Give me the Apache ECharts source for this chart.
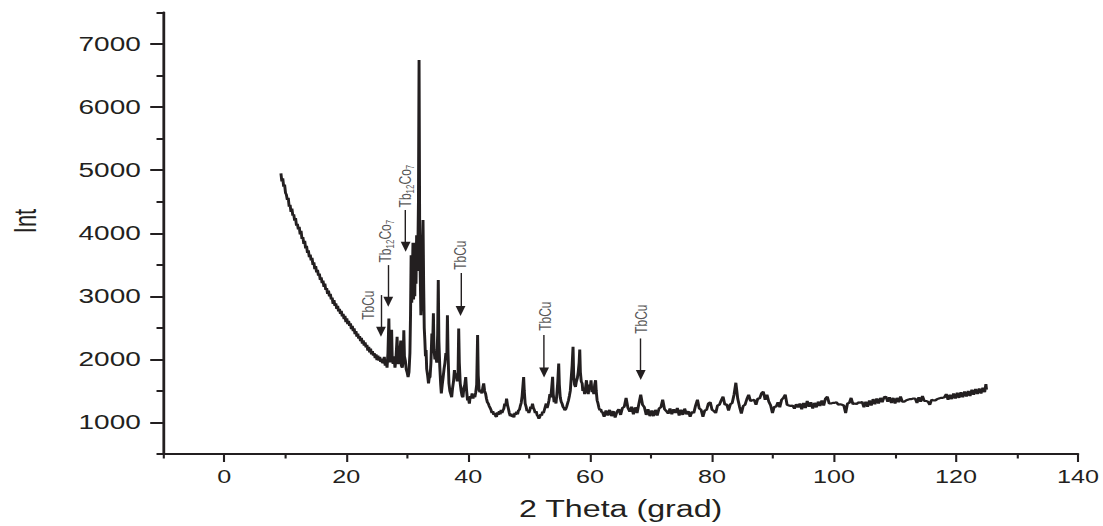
<!DOCTYPE html>
<html>
<head>
<meta charset="utf-8">
<script src="https://cdn.jsdelivr.net/npm/echarts@6/dist/echarts.min.js"></script>
<style>
html,body{margin:0;padding:0;background:#fff;overflow:hidden}
#wrap{width:1103px;height:526px;overflow:hidden;position:relative}
#chart{width:788px;height:526px;transform:scaleX(1.4);transform-origin:0 0}
</style>
</head>
<body>
<div id="wrap"><div id="chart"></div></div>
<script>
// ---------- tick labels ----------
const xTickLabels = [0, 20, 40, 60, 80, 100, 120, 140];
const xMinorTicks = [-10, 10, 30, 50, 70, 90, 110, 130];
const yTickLabels = [1000, 2000, 3000, 4000, 5000, 6000, 7000];
const yMinorTicks = [500, 1500, 2500, 3500, 4500, 5500, 6500, 7500];

// ---------- scan: [2theta, intensity] ----------
const decayScan = [
 [9.30,4950],[9.45,4820],[9.60,4870],[9.75,4740],[9.90,4770],[10.05,4640],[10.20,4610],[10.35,4530],
 [10.50,4560],[10.65,4420],[10.80,4450],[10.95,4340],[11.10,4390],[11.25,4280],[11.40,4300],[11.55,4200],
 [11.70,4240],[11.85,4120],[12.00,4150],[12.15,4060],[12.30,4100],[12.45,3980],[12.60,4040],[12.75,3910],
 [12.90,3940],[13.05,3830],[13.20,3880],[13.35,3760],[13.50,3800],[13.65,3690],[13.80,3730],[13.95,3620],
 [14.10,3660],[14.25,3570],[14.40,3610],[14.55,3500],[14.70,3540],[14.85,3430],[15.00,3480],[15.15,3380],
 [15.30,3420],[15.45,3330],[15.60,3360],[15.75,3260],[15.90,3300],[16.05,3210],[16.20,3250],[16.35,3150],
 [16.50,3200],[16.65,3100],[16.80,3130],[16.95,3040],[17.10,3090],[17.25,3000],[17.40,3040],[17.55,2950],
 [17.70,2980],[17.85,2880],[18.00,2940],[18.15,2850],[18.30,2890],[18.45,2800],[18.60,2850],[18.75,2760],
 [18.90,2800],[19.05,2720],[19.20,2770],[19.35,2680],[19.50,2720],[19.65,2640],[19.80,2690],[19.95,2590],
 [20.10,2650],[20.25,2560],[20.40,2610],[20.55,2530],[20.70,2570],[20.85,2480],[21.00,2530],[21.15,2450],
 [21.30,2490],[21.45,2400],[21.60,2450],[21.75,2360],[21.90,2410],[22.05,2330],[22.20,2370],[22.35,2290],
 [22.50,2340],[22.65,2250],[22.80,2300],[22.95,2220],[23.10,2270],[23.25,2190],[23.40,2230],[23.55,2140],
 [23.70,2200],[23.85,2110],[24.00,2170],[24.15,2080],[24.30,2130],[24.45,2060],[24.60,2100],[24.75,2020],
 [24.90,2080],[25.05,1990],[25.20,2060],[25.35,1980],[25.50,2040],[25.65,1960],[25.80,2010],[25.95,1940]
];
const peakScan = [
 [26.10,1960],[26.25,2040],[26.40,1900],[26.55,1990],[26.70,1870],[26.85,2100],[27.00,2650],[27.10,2050],
 [27.20,1950],[27.30,2200],[27.45,2470],[27.55,2000],[27.70,1930],[27.85,2050],[28.00,1870],[28.15,1990],
 [28.35,2360],[28.45,1950],[28.60,1930],[28.75,2060],[28.95,2300],[29.05,1900],[29.20,1870],[29.35,2000],
 [29.45,2460],[29.55,2050],[29.70,1980],[29.85,1840],[30.00,1790],[30.15,1720],[30.30,1800],[30.45,2100],
 [30.55,2700],[30.65,3650],[30.75,2900],[30.85,3300],[30.95,3850],[31.05,2950],[31.15,3400],[31.25,3000],
 [31.35,3850],[31.45,3200],[31.55,3970],[31.65,3400],[31.75,3700],[31.85,4500],[31.95,6746],[32.05,4000],
 [32.15,3300],[32.25,2700],[32.35,3000],[32.45,3600],[32.60,4210],[32.70,3200],[32.80,2500],[32.90,2300],
 [33.00,2050],[33.10,2150],[33.20,1850],[33.35,1750],[33.50,1620],[33.60,1700],[33.75,1720],[33.90,1950],
 [34.05,2410],[34.15,2100],[34.30,2730],[34.40,2150],[34.55,2000],[34.70,2050],[34.85,1950],[35.00,2400],
 [35.10,3260],[35.20,2300],[35.35,1880],[35.50,1600],[35.60,1460],[35.75,1600],[35.90,1720],[36.05,1850],
 [36.20,1950],[36.35,2100],[36.50,2000],[36.60,2700],[36.70,2100],[36.85,1620],[37.00,1500],[37.15,1450],
 [37.30,1400],[37.45,1550],[37.60,1650],[37.75,1830],[37.90,1700],[38.05,1780],[38.20,1650],[38.35,1800],
 [38.45,2490],[38.55,1950],[38.70,1620],[38.85,1500],[39.00,1420],[39.15,1400],[39.30,1550],[39.45,1600],
 [39.60,1720],[39.75,1500],[39.90,1350],[40.05,1380],[40.20,1300],[40.35,1420],[40.50,1380],[40.65,1460],
 [40.80,1380],[40.95,1420],[41.10,1400],[41.25,1480],[41.40,1600],[41.55,2385],[41.65,1750],[41.80,1510],
 [41.95,1480],[42.10,1520],[42.25,1460],[42.40,1550],[42.55,1620],[42.70,1500],[42.85,1460],[43.00,1380],
 [43.15,1320],[43.30,1300],[43.45,1260],[43.60,1230],[43.75,1200],[43.90,1150],[44.05,1180],[44.20,1120],
 [44.35,1150],[44.50,1100],[44.65,1090],[44.80,1160],[44.95,1120],[45.10,1180],[45.25,1130],[45.40,1200],
 [45.55,1150],[45.70,1190],[45.85,1220],[46.00,1300],[46.15,1260],[46.30,1380],[46.45,1280],[46.60,1220],
 [46.75,1150],[46.90,1100],[47.05,1140],[47.20,1090],[47.35,1110],[47.50,1080],[47.65,1150],[47.80,1120],
 [47.95,1170],[48.10,1130],[48.25,1190],[48.40,1200],[48.55,1260],[48.70,1310],[48.85,1420],[49.00,1600],
 [49.10,1720],[49.20,1500],[49.35,1300],[49.50,1250],[49.65,1180],[49.80,1200],[49.95,1150],[50.10,1190],
 [50.25,1250],[50.40,1220],[50.55,1300],[50.70,1230],[50.85,1200],[51.00,1150],[51.15,1180],[51.30,1120],
 [51.45,1100],[51.60,1060],[51.75,1090],[51.90,1130],[52.05,1110],[52.20,1170],[52.35,1150],[52.50,1200],
 [52.65,1250],[52.80,1300],[52.95,1230],[53.10,1280],[53.25,1350],[53.40,1450],[53.55,1400],[53.70,1550],
 [53.85,1723],[53.95,1450],[54.10,1320],[54.25,1380],[54.40,1300],[54.55,1450],[54.70,1650],[54.85,1935],
 [54.95,1600],[55.10,1400],[55.25,1330],[55.40,1300],[55.55,1250],[55.70,1230],[55.85,1195],[56.00,1210],
 [56.15,1250],[56.30,1300],[56.45,1350],[56.60,1420],[56.75,1500],[56.90,1700],[57.05,1900],[57.20,2200],
 [57.30,1750],[57.45,1600],[57.60,1565],[57.75,1650],[57.90,1700],[58.05,1800],[58.20,1950],[58.30,2157],
 [58.40,1800],[58.55,1650],[58.70,1617],[58.80,1500],[58.95,1550],[59.10,1450],[59.25,1550],[59.40,1670],
 [59.55,1500],[59.70,1450],[59.85,1600],[60.00,1520],[60.15,1670],[60.30,1480],[60.45,1550],[60.60,1450],
 [60.75,1600],[60.90,1670],[61.00,1500],[61.15,1350],[61.30,1300],[61.45,1230],[61.60,1195],[61.75,1210],
 [61.90,1160]
];
const tailScan = [
 [62.0,1170],[62.3,1090],[62.6,1190],[62.9,1110],[63.2,1200],[63.5,1100],[63.8,1180],[64.1,1080],
 [64.4,1170],[64.7,1210],[65.0,1120],[65.3,1230],[65.6,1250],[65.9,1390],[66.2,1230],[66.5,1170],
 [66.8,1250],[67.1,1130],[67.4,1240],[67.7,1150],[68.0,1300],[68.3,1440],[68.6,1280],[68.9,1240],
 [69.2,1120],[69.5,1210],[69.8,1100],[70.1,1190],[70.4,1100],[70.7,1200],[71.0,1110],[71.3,1220],
 [71.6,1240],[71.9,1360],[72.2,1210],[72.5,1180],[72.8,1140],[73.1,1220],[73.4,1130],[73.7,1210],
 [74.0,1150],[74.3,1230],[74.6,1110],[74.9,1200],[75.2,1120],[75.5,1220],[75.8,1130],[76.1,1180],
 [76.4,1090],[76.7,1170],[77.0,1150],[77.3,1270],[77.6,1360],[77.9,1220],[78.2,1200],[78.5,1090],
 [78.8,1190],[79.1,1200],[79.4,1300],[79.7,1320],[80.0,1200],[80.3,1180],[80.6,1150],[80.9,1270],
 [81.2,1280],[81.5,1350],[81.8,1410],[82.1,1280],[82.4,1290],[82.7,1190],[83.0,1290],[83.3,1310],
 [83.6,1440],[83.9,1630],[84.2,1380],[84.5,1250],[84.8,1140],[85.1,1260],[85.4,1280],[85.7,1370],
 [86.0,1440],[86.3,1340],[86.6,1350],[86.9,1360],[87.2,1280],[87.5,1380],[87.8,1380],[88.1,1460],
 [88.4,1490],[88.7,1360],[89.0,1440],[89.3,1330],[89.6,1270],[89.9,1150],[90.2,1250],[90.5,1250],
 [90.8,1320],[91.1,1240],[91.4,1360],[91.7,1390],[92.0,1440],[92.3,1280],[92.6,1270],[92.9,1260],
 [93.2,1270],[93.5,1220],[93.8,1290],[94.1,1240],[94.4,1300],[94.7,1210],[95.0,1310],[95.3,1230],
 [95.6,1340],[95.9,1250],[96.2,1320],[96.5,1220],[96.8,1310],[97.1,1240],[97.4,1330],[97.7,1260],
 [98.0,1350],[98.3,1270],[98.6,1380],[98.9,1410],[99.2,1300],[99.5,1300],[99.8,1310],[100.1,1310],
 [100.4,1320],[100.7,1280],[101.0,1290],[101.3,1280],[101.6,1270],[101.9,1150],[102.2,1300],[102.5,1310],
 [102.8,1390],[103.1,1290],[103.4,1300],[103.7,1290],[104.0,1320],[104.3,1310],[104.6,1330],[104.9,1240],
 [105.2,1330],[105.5,1250],[105.8,1350],[106.1,1270],[106.4,1370],[106.7,1290],[107.0,1380],[107.3,1300],
 [107.6,1390],[107.9,1320],[108.2,1400],[108.5,1410],[108.8,1330],[109.1,1400],[109.4,1310],[109.7,1390],
 [110.0,1300],[110.3,1390],[110.6,1320],[110.9,1410],[111.2,1330],[111.5,1330],[111.8,1350],[112.1,1360],
 [112.4,1370],[112.7,1370],[113.0,1380],[113.3,1380],[113.6,1310],[113.9,1400],[114.2,1330],[114.5,1420],
 [114.8,1340],[115.1,1340],[115.4,1330],[115.7,1280],[116.0,1360],[116.3,1350],[116.6,1350],[116.9,1370],
 [117.2,1380],[117.5,1390],[117.8,1390],[118.1,1400],[118.4,1450],[118.7,1360],[119.0,1440],[119.3,1370],
 [119.6,1460],[119.9,1380],[120.2,1470],[120.5,1390],[120.8,1480],[121.1,1400],[121.4,1490],[121.7,1410],
 [122.0,1500],[122.3,1420],[122.6,1520],[122.9,1440],[123.2,1530],[123.5,1450],[123.8,1540],[124.1,1460],
 [124.4,1550],[124.7,1480],[124.9,1610],[125.0,1520]
];

// ---------- phase annotations ----------
const phaseNames  = ['TbCu', 'Tb12Co7', 'Tb12Co7', 'TbCu', 'TbCu', 'TbCu'];
const arrowTheta  = [25.7, 26.9, 29.75, 38.75, 52.45, 68.3];
const arrowTop    = [3020, 3495, 4367, 3368, 2385, 2332];
const arrowEnd    = [2440, 2914, 3786, 2766, 1794, 1751];
const labelTheta  = [23.6, 26.35, 29.64, 38.64, 52.56, 68.36];
const labelInt    = [2860, 3875, 4748, 3652, 2686, 2638];

const scan = decayScan.concat(peakScan, tailScan);
const ink = '#231f20';
const font = '"Liberation Sans", Arial, sans-serif';

function richName(n) {
  if (n === 'Tb12Co7') return '{b|Tb}{s|12}{b|Co}{s|7}';
  return '{b|' + n + '}';
}

const chart = echarts.init(document.getElementById('chart'), null, {renderer: 'svg'});
chart.setOption({
  animation: false,
  backgroundColor: '#fff',
  grid: {left: 116.6, right: 17.3, top: 12.5, bottom: 71.5, containLabel: false},
  xAxis: [{
    type: 'value', min: -10, max: 140, interval: 10, position: 'bottom',
    name: '2 Theta (grad)', nameLocation: 'middle', nameGap: 44,
    nameTextStyle: {fontFamily: font, fontSize: 23, color: ink},
    axisLine: {show: true, onZero: false, lineStyle: {color: ink, width: 2}},
    axisTick: {show: true, customValues: xTickLabels, length: 8, lineStyle: {color: ink, width: 1.5}},
    axisLabel: {show: true, customValues: xTickLabels, margin: 14, fontFamily: font, fontSize: 18, color: ink,
                formatter: v => String(v)},
    splitLine: {show: false}
  }, {
    type: 'value', min: -10, max: 140, interval: 10, position: 'bottom',
    axisLine: {show: false, onZero: false},
    axisTick: {show: true, customValues: xMinorTicks, length: 4.5, lineStyle: {color: ink, width: 1.5}},
    axisLabel: {show: false},
    splitLine: {show: false}
  }],
  yAxis: [{
    type: 'value', min: 500, max: 7500, interval: 500, position: 'left',
    axisLine: {show: true, onZero: false, lineStyle: {color: ink, width: 2}},
    axisTick: {show: true, customValues: yTickLabels, length: 9.3, lineStyle: {color: ink, width: 2}},
    axisLabel: {show: true, customValues: yTickLabels, margin: 16, fontFamily: font, fontSize: 20, color: ink,
                formatter: v => String(v)},
    splitLine: {show: false}
  }, {
    type: 'value', min: 500, max: 7500, interval: 500, position: 'left',
    axisLine: {show: false, onZero: false},
    axisTick: {show: true, customValues: yMinorTicks, length: 4.8, lineStyle: {color: ink, width: 2}},
    axisLabel: {show: false},
    splitLine: {show: false}
  }],
  graphic: [{
    type: 'text', x: 18, y: 221, rotation: Math.PI / 2,
    style: {text: 'Int', font: '22px ' + font, fill: ink, align: 'center', verticalAlign: 'middle'}
  }],
  series: [{
    type: 'line', name: 'XRD', xAxisIndex: 0, yAxisIndex: 0,
    data: scan, showSymbol: false, symbol: 'none', silent: true,
    lineStyle: {color: ink, width: 2.1},
    markLine: {
      silent: true, animation: false,
      symbol: ['none', 'triangle'],
      label: {show: false},
      lineStyle: {color: ink, width: 1, type: 'solid'},
      emphasis: {disabled: true},
      data: arrowTheta.map((t, i) => [
        {coord: [t, arrowTop[i]], symbol: 'none'},
        {coord: [t, arrowEnd[i]], symbol: 'triangle', symbolSize: [7, 10]}
      ])
    }
  }, {
    type: 'scatter', name: 'phases', xAxisIndex: 0, yAxisIndex: 0,
    symbolSize: 0, silent: true,
    data: labelTheta.map((t, i) => ({value: [t, labelInt[i]], name: phaseNames[i]})),
    label: {
      show: true, position: 'inside', rotate: 90, align: 'center', verticalAlign: 'middle',
      formatter: p => richName(p.name),
      rich: {
        b: {fontFamily: font, fontSize: 12, color: '#2a2a2a', lineHeight: 15, verticalAlign: 'middle'},
        s: {fontFamily: font, fontSize: 8, color: '#2a2a2a', lineHeight: 8, verticalAlign: 'bottom'}
      }
    }
  }]
});
</script>
</body>
</html>
